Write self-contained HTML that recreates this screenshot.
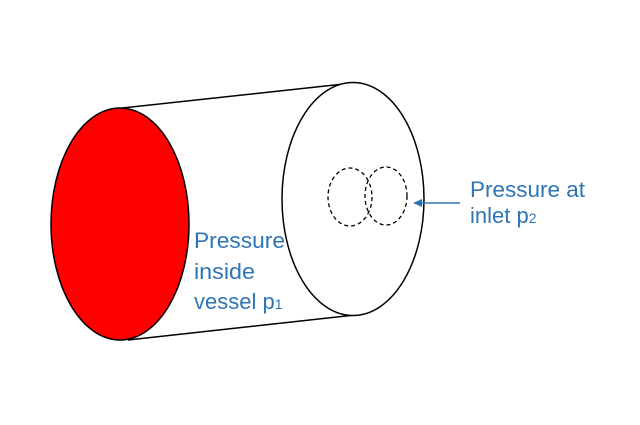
<!DOCTYPE html>
<html><head><meta charset="utf-8"><style>html,body{margin:0;padding:0;background:#fff}svg{display:block}</style></head>
<body>
<svg width="640" height="425" viewBox="0 0 640 425" xmlns="http://www.w3.org/2000/svg">
<rect width="640" height="425" fill="#fff"/>
<line x1="122" y1="108" x2="353" y2="83" stroke="#000" stroke-width="1.5"/>
<line x1="128" y1="340" x2="355" y2="315" stroke="#000" stroke-width="1.5"/>
<ellipse cx="353" cy="199" rx="71" ry="116.5" fill="#fff" stroke="#000" stroke-width="1.5"/>
<ellipse cx="120" cy="224" rx="69" ry="116" fill="#ff0000" stroke="#000" stroke-width="1.5"/>
<ellipse cx="350" cy="197" rx="22" ry="29" fill="none" stroke="#000" stroke-width="1.3" stroke-dasharray="4,3"/>
<ellipse cx="386" cy="196" rx="21" ry="29" fill="none" stroke="#000" stroke-width="1.3" stroke-dasharray="4,3"/>
<line x1="460" y1="203" x2="420" y2="203" stroke="#2e75b6" stroke-width="1.5"/>
<polygon points="413,203 422,199 422,207" fill="#2e75b6"/>
<g font-family="Liberation Sans, sans-serif" font-size="22" fill="#2e75b6">
<text x="194" y="248" textLength="91" lengthAdjust="spacingAndGlyphs">Pressure</text>
<text x="194" y="279" textLength="61" lengthAdjust="spacingAndGlyphs">inside</text>
<text x="194" y="309">vessel p<tspan font-size="14">1</tspan></text>
<text x="470" y="197" textLength="115" lengthAdjust="spacingAndGlyphs">Pressure at</text>
<text x="470" y="223">inlet p<tspan font-size="14">2</tspan></text>
</g>
</svg>
</body></html>
